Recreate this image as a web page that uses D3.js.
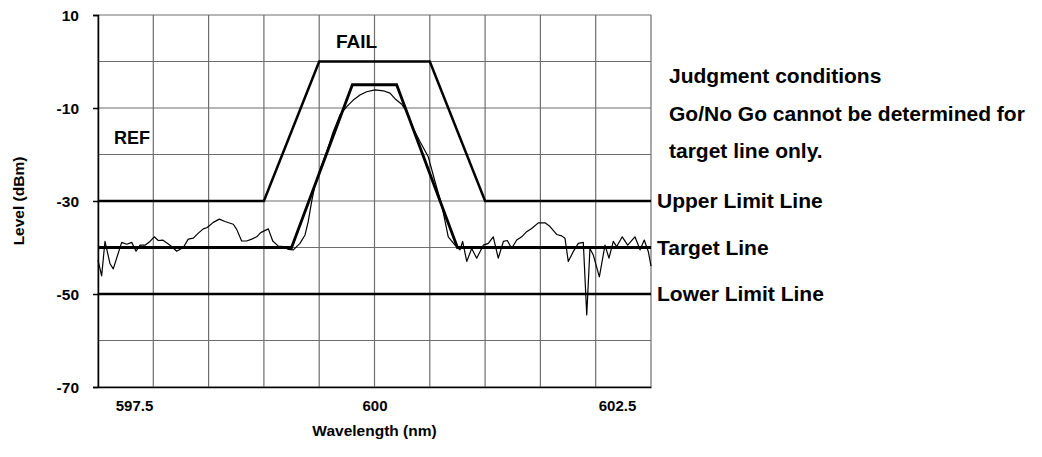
<!DOCTYPE html>
<html>
<head>
<meta charset="utf-8">
<script src="https://cdn.jsdelivr.net/npm/d3@7"></script>
<style>
  body { margin: 0; background: #fff; }
  text { font-family: Arial, "Liberation Sans", sans-serif; font-weight: bold; fill: #000; }
</style>
</head>
<body>
<svg width="1042" height="457"></svg>
<script>
var wavelength = [597.50, 597.533, 597.563, 597.609, 597.638, 597.714, 597.760, 597.805, 597.844, 597.880,
  597.925, 597.970, 598.009, 598.045, 598.085, 598.151, 598.212, 598.271, 598.316, 598.362,
  598.407, 598.452, 598.488, 598.542, 598.597, 598.648, 598.723, 598.754, 598.799, 598.844,
  598.890, 598.935, 598.971, 599.040, 599.080, 599.130, 599.175, 599.221, 599.266, 599.326,
  599.372, 599.401, 599.432, 599.462, 599.507, 599.568, 599.627, 599.688, 599.749, 599.808,
  599.869, 599.929, 600.005, 600.080, 600.140, 600.185, 600.246, 600.291, 600.351, 600.411,
  600.486, 600.547, 600.608, 600.667, 600.728, 600.773, 600.797, 600.834, 600.879, 600.924,
  600.984, 601.029, 601.074, 601.119, 601.165, 601.201, 601.240, 601.286, 601.331, 601.376,
  601.421, 601.481, 601.542, 601.587, 601.647, 601.693, 601.722, 601.752, 601.797, 601.843,
  601.888, 601.919, 601.948, 601.978, 602.033, 602.084, 602.120, 602.159, 602.190, 602.240,
  602.289, 602.355, 602.401, 602.439, 602.476, 602.50];
var level = [-42.7, -46.1, -38.7, -43.5, -44.6, -38.9, -39.3, -38.9, -40.8, -39.5,
  -39.5, -38.7, -37.7, -38.5, -38.4, -39.5, -40.8, -40.0, -38.2, -38.0,
  -36.9, -36.0, -35.7, -34.6, -33.9, -34.4, -35.0, -36.1, -38.6, -38.6,
  -38.2, -37.7, -36.8, -36.0, -38.6, -39.7, -39.8, -40.4, -40.5, -39.1,
  -37.3, -34.4, -30.1, -26.6, -23.3, -19.4, -15.1, -11.5, -9.7, -8.3,
  -7.2, -6.5, -6.1, -6.3, -6.8, -8.0, -9.2, -10.8, -14.4, -17.2,
  -20.5, -25.8, -30.9, -37.7, -39.5, -40.5, -38.7, -43.0, -40.2, -42.3,
  -39.5, -39.1, -37.7, -42.3, -38.7, -38.5, -40.2, -38.4, -37.7, -36.6,
  -35.9, -34.7, -34.7, -35.5, -37.2, -37.5, -38.0, -43.0, -40.9, -39.1,
  -38.9, -54.5, -40.2, -41.6, -46.3, -39.5, -42.3, -38.7, -39.8, -37.7,
  -39.5, -37.7, -40.5, -38.4, -40.9, -44.0];

// limit / target templates
var upperX = [597.5, 599.0, 599.5, 600.5, 601.0, 602.5];
var upperY = [-30, -30, 0, 0, -30, -30];
var targetX = [597.5, 599.25, 599.8, 600.2, 600.75, 602.5];
var targetY = [-40, -40, -5, -5, -40, -40];
var lowerX = [597.5, 602.5];
var lowerY = [-50, -50];

var yTicks = [10, -10, -30, -50, -70];
var xTicks = [597.5, 600, 602.5];

var lineLabels = ["Upper Limit Line", "Target Line", "Lower Limit Line"];
var lineLevels = [-30, -40, -50];
var noteLines = ["Judgment conditions", "Go/No Go cannot be determined for", "target line only."];

var svg = d3.select('svg');
var plotL = 98, plotR = 651, plotT = 15, plotB = 387;

var x = d3.scaleLinear().domain([597.5, 602.5]).range([plotL, plotR]);
var y = d3.scaleLinear().domain([-70, 10]).range([plotB, plotT]);

// grid
var grid = svg.append('g').attr('class', 'grid');
grid.selectAll('.vg')
    .data(d3.range(0, 11).map(function(i) { return 597.5 + i * 0.5; }))
    .enter().append('line')
    .attr('x1', function(d) { return x(d); })
    .attr('x2', function(d) { return x(d); })
    .attr('y1', plotT).attr('y2', plotB)
    .style('stroke', '#6e6e6e').style('stroke-width', 1.2);
grid.selectAll('.hg')
    .data(d3.range(-70, 11, 10))
    .enter().append('line')
    .attr('x1', plotL).attr('x2', plotR)
    .attr('y1', function(d) { return y(d); })
    .attr('y2', function(d) { return y(d); })
    .style('stroke', '#6e6e6e').style('stroke-width', 1.2);

// axes
var yAxis = d3.axisLeft(y).tickValues(yTicks).tickSize(5).tickPadding(14)
    .tickFormat(function(d) { return String(d); });
svg.append('g')
    .attr('class', 'y axis')
    .attr('transform', 'translate(' + plotL + ',0)')
    .call(yAxis)
    .call(function(g) {
        g.select('.domain').style('stroke', '#000').style('stroke-width', 1.5);
        g.selectAll('.tick line').style('stroke', '#000').style('stroke-width', 1.5);
        g.selectAll('text').style('font-size', '15.5px').style('font-family', 'Arial, "Liberation Sans", sans-serif')
            .style('font-weight', 'bold').attr('dy', '0.35em');
    });

var xAxis = d3.axisBottom(x).tickValues(xTicks).tickSize(0).tickPadding(13)
    .tickFormat(function(d) { return d === 600 ? '600' : d3.format('.1f')(d); });
svg.append('g')
    .attr('class', 'x axis')
    .attr('transform', 'translate(0,' + plotB + ')')
    .call(xAxis)
    .call(function(g) {
        g.select('.domain').style('stroke', '#000').style('stroke-width', 1.5);
        g.selectAll('text').style('font-size', '15px').style('font-family', 'Arial, "Liberation Sans", sans-serif')
            .style('font-weight', 'bold')
            .attr('dx', function(d) { return d === 597.5 ? 36 : (d === 602.5 ? -34 : 0); });
    });

// axis titles
svg.append('text')
    .attr('transform', 'translate(' + ((plotL + plotR) / 2) + ',436)')
    .attr('text-anchor', 'middle')
    .style('font-size', '15.5px')
    .text('Wavelength (nm)');
svg.append('text')
    .attr('transform', 'translate(24,' + ((plotT + plotB) / 2) + ')rotate(270)')
    .attr('text-anchor', 'middle')
    .style('font-size', '15.5px')
    .text('Level (dBm)');

// plot lines
var line = d3.line()
    .x(function(d) { return x(d[0]); })
    .y(function(d) { return y(d[1]); });

svg.append('path')
    .datum(d3.zip(upperX, upperY))
    .attr('d', line)
    .style('fill', 'none').style('stroke', '#000').style('stroke-width', 2.5);
svg.append('path')
    .datum(d3.zip(lowerX, lowerY))
    .attr('d', line)
    .style('fill', 'none').style('stroke', '#000').style('stroke-width', 2.5);
svg.append('path')
    .datum(d3.zip(targetX, targetY))
    .attr('d', line)
    .style('fill', 'none').style('stroke', '#000').style('stroke-width', 2.8);
svg.append('path')
    .datum(d3.zip(wavelength, level))
    .attr('d', line)
    .style('fill', 'none').style('stroke', '#000').style('stroke-width', 1.2)
    .style('stroke-linejoin', 'round');

// annotations
svg.selectAll('.lineLabel')
    .data(lineLabels)
    .enter().append('text')
    .attr('x', plotR + 6)
    .attr('y', function(d, i) { return y(lineLevels[i]); })
    .attr('dy', '0.35em')
    .style('font-size', '21px')
    .text(function(d) { return d; });

svg.selectAll('.note')
    .data(noteLines)
    .enter().append('text')
    .attr('x', 669)
    .attr('y', function(d, i) { return 76 + i * 37.5; })
    .attr('dy', '0.35em')
    .style('font-size', '21px')
    .text(function(d) { return d; });

svg.append('text').attr('x', 336).attr('y', 41).attr('dy', '0.35em')
    .style('font-size', '19px').text('FAIL');
svg.append('text').attr('x', 114).attr('y', 138).attr('dy', '0.35em')
    .style('font-size', '18px').text('REF');
</script>
</body>
</html>
